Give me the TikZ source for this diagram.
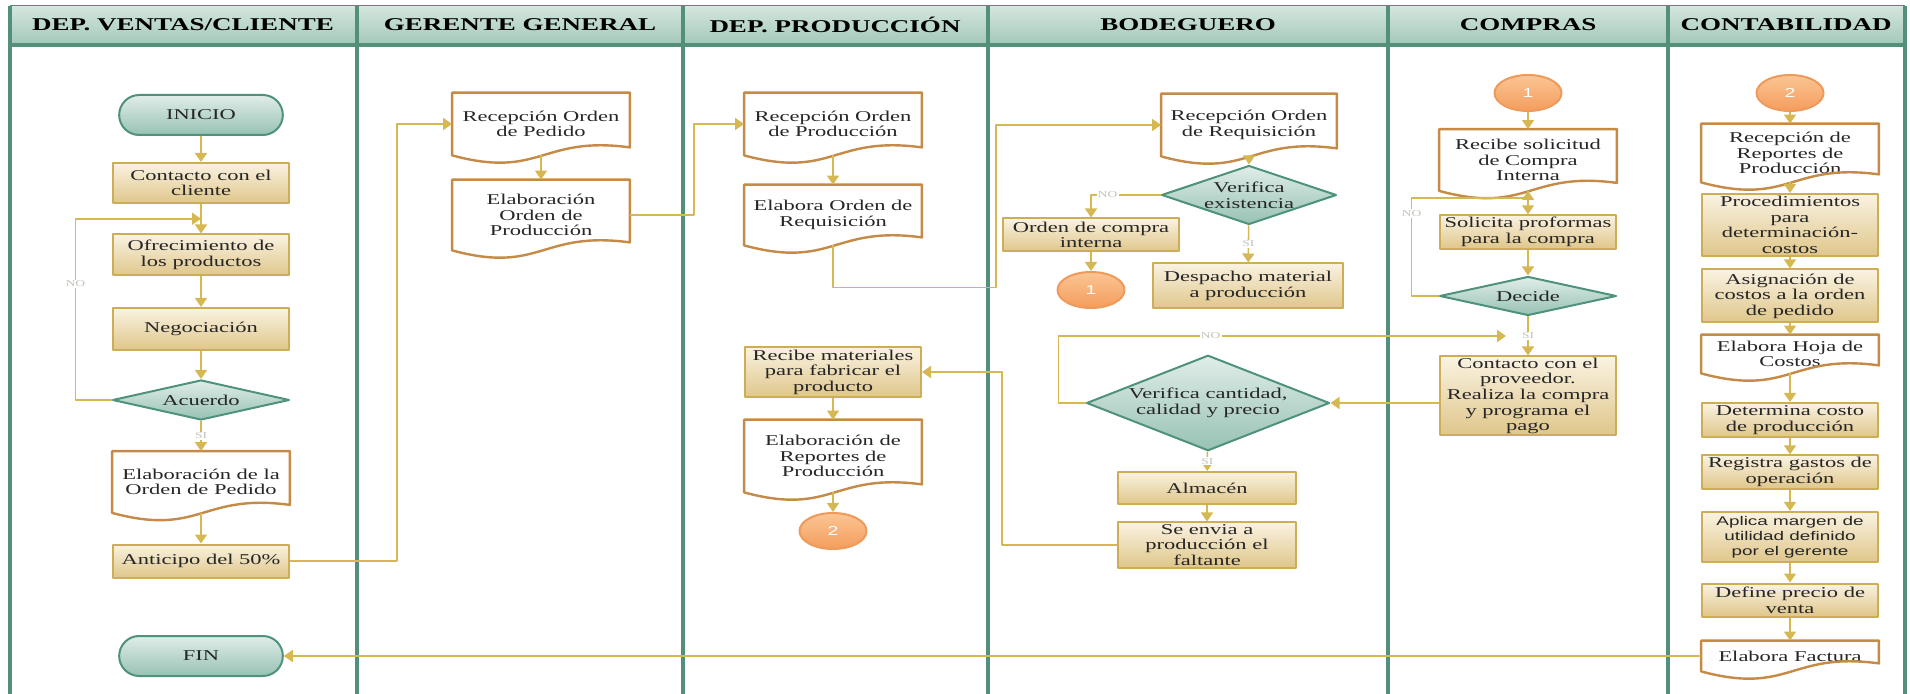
\documentclass[tikz,border=0pt]{standalone}
\usepackage{fontspec}
\setmainfont{Liberation Serif}[FakeStretch=1.5]
\setsansfont{Liberation Sans}[FakeStretch=1.5]
\usetikzlibrary{shapes.geometric,shapes.misc,arrows.meta,calc}
\definecolor{laneline}{HTML}{52907A}
\definecolor{headtop}{HTML}{D4E6DE}
\definecolor{headbot}{HTML}{A3C7B9}
\definecolor{procline}{HTML}{CDAE57}
\definecolor{proctop}{HTML}{FAF3E2}
\definecolor{procbot}{HTML}{DFC68A}
\definecolor{docline}{HTML}{C58A45}
\definecolor{decline}{HTML}{4E927C}
\definecolor{dectop}{HTML}{E0EDE8}
\definecolor{decbot}{HTML}{97C2B3}
\definecolor{connline}{HTML}{EE9A5A}
\definecolor{conntop}{HTML}{FBC594}
\definecolor{connbot}{HTML}{F49D5C}
\definecolor{arrcol}{HTML}{D6B852}
\definecolor{labgray}{HTML}{C4C2B8}
\begin{document}
\begin{tikzpicture}[x=0.5pt,y=-0.5pt,>={Triangle[width=6pt,length=4.5pt]},line join=round,
	font=\fontsize{7.5}{7.8}\selectfont,text=black!85,
	lane/.style={draw=laneline,line width=1.6pt},
	head/.style={font=\fontsize{9}{10}\selectfont\bfseries,text=black},
	proc/.style={draw=procline,line width=1pt,top color=proctop,bottom color=procbot,align=center,inner sep=1pt,minimum width=88pt},
	docu/.style={align=center,inner sep=1pt,minimum width=88.5pt},
	docedge/.style={draw=docline,line width=1.2pt},
	deci/.style={diamond,draw=decline,line width=1pt,top color=dectop,bottom color=decbot,align=center,inner sep=0pt},
	term/.style={rounded rectangle,draw=decline,line width=1pt,top color=dectop,bottom color=decbot,minimum width=88.5pt,minimum height=20pt},
	conn/.style={ellipse,draw=connline,line width=1pt,top color=conntop,bottom color=connbot,text=white,font=\sffamily\fontsize{6.5}{7}\selectfont,minimum width=33.5pt,minimum height=18pt,inner sep=0pt},
	lab/.style={fill=white,text=labgray,font=\fontsize{4.5}{5}\selectfont,inner sep=0.6pt},
	arr/.style={->,draw=arrcol,line width=0.8pt}]
\useasboundingbox (0,0) rectangle (1910,694);
% carriles
\shade[top color=headtop,bottom color=headbot] (10,6) rectangle (1905,45);
\draw[draw=laneline,line width=0.5pt] (10,6) -- (1905,6);
\draw[lane] (10,45) -- (1905,45);
\foreach \x in {10,357,683,988,1388,1668,1905}
	\draw[lane] (\x,6) -- (\x,694);
\node[head] (h1) at (183,25) {DEP. VENTAS/CLIENTE};
\node[head] (h2) at (520,25) {GERENTE GENERAL};
\node[head] (h3) at (835,25) {DEP. PRODUCCIÓN};
\node[head] (h4) at (1188,25) {BODEGUERO};
\node[head] (h5) at (1528,25) {COMPRAS};
\node[head] (h6) at (1786,25) {CONTABILIDAD};
% ventas / cliente
\node[term] (ini) at (201,115) {INICIO};
\node[proc,minimum height=20pt] (b1) at (201,183) {Contacto con el\\cliente};
\node[proc,minimum height=20.5pt] (b2) at (201,255) {Ofrecimiento de\\los productos};
\node[proc,minimum height=21pt] (b3) at (201,329) {Negociación};
\node[deci,aspect=4.4,minimum width=88.5pt,minimum height=20pt] (d1) at (201,400) {Acuerdo};
\node[docu,minimum height=30.5pt] (doc1) at (201,482) {Elaboración de la\\Orden de Pedido};
\node[proc,minimum height=16.5pt] (b4) at (201,561) {Anticipo del 50\%};
\node[term] (fin) at (201,656) {FIN};
% gerente
\node[docu,minimum height=31pt] (doc2) at (541,124) {Recepción Orden\\de Pedido};
\node[docu,minimum height=35pt] (doc3) at (541,215) {Elaboración\\Orden de\\Producción};
% produccion
\node[docu,minimum height=31pt] (doc4) at (833,124) {Recepción Orden\\de Producción};
\node[docu,minimum height=30pt] (doc5) at (833,215) {Elabora Orden de\\Requisición};
\node[proc,minimum height=25pt] (b5) at (833,372) {Recibe materiales\\para fabricar el\\producto};
\node[docu,minimum height=36pt] (doc6) at (833,456) {Elaboración de\\Reportes de\\Producción};
\node[conn] (c2a) at (833,531) {2};
% bodeguero
\node[docu,minimum width=87.5pt,minimum height=31pt] (doc7) at (1249,125) {Recepción Orden\\de Requisición};
\node[deci,aspect=2.85,minimum width=87.5pt,minimum height=29.5pt] (d2) at (1249,195) {Verifica\\existencia};
\node[proc,minimum height=16.5pt] (b6) at (1091,235) {Orden de compra\\interna};
\node[conn] (c1a) at (1091,290) {1};
\node[proc,minimum width=95pt,minimum height=22.5pt] (b7) at (1248,286) {Despacho material\\a producción};
\node[deci,aspect=2.4,minimum width=121.5pt,minimum height=43.5pt] (d3) at (1208,403) {Verifica cantidad,\\calidad y precio};
\node[proc,minimum width=89pt,minimum height=16pt] (b8) at (1207,488) {Almacén};
\node[proc,minimum width=89pt,minimum height=22.5pt,inner ysep=0pt] (b9) at (1207,545) {Se envia a\\producción el\\faltante};
% compras
\node[conn] (c1b) at (1528,93) {1};
\node[docu,minimum height=30.5pt] (doc8) at (1528,160) {Recibe solicitud\\de Compra\\Interna};
\node[proc,minimum height=16.5pt] (b10) at (1528,232) {Solicita proformas\\para la compra};
\node[deci,aspect=4.75,minimum width=88.5pt,minimum height=19.5pt] (d4) at (1528,296) {Decide};
\node[proc,minimum height=39.5pt,inner ysep=0pt] (b11) at (1528,396) {Contacto con el\\proveedor.\\Realiza la compra\\y programa el\\pago};
% contabilidad
\node[conn] (c2b) at (1790,93) {2};
\node[docu,minimum height=29pt] (doc9) at (1790,153) {Recepción de\\Reportes de\\Producción};
\node[proc,minimum height=31pt,inner ysep=0pt] (b12) at (1790,225) {Procedimientos\\para\\determinación-\\costos};
\node[proc,minimum height=26.5pt] (b13) at (1790,296) {Asignación de\\costos a la orden\\de pedido};
\node[docu,minimum height=19pt] (doc10) at (1790,354) {Elabora Hoja de\\Costos};
\node[proc,minimum height=17pt] (b14) at (1790,420) {Determina costo\\de producción};
\node[proc,minimum height=16pt] (b15) at (1790,472) {Registra gastos de\\operación};
\node[proc,minimum height=25pt,font=\sffamily\fontsize{6.3}{7.6}\selectfont] (b16) at (1790,537) {Aplica margen de\\utilidad definido\\por el gerente};
\node[proc,minimum height=16.5pt] (b17) at (1790,600) {Define precio de\\venta};
\node[docu,minimum height=15pt] (doc11) at (1790,656) {Elabora Factura};
% bordes de documentos
\foreach \n in {doc1,doc2,doc3,doc4,doc5,doc6,doc7,doc8,doc9,doc10,doc11}
	\draw[docedge] (\n.south west) -- (\n.north west) -- (\n.north east) -- ([yshift=4pt]\n.south east)
		.. controls ([yshift=10pt]\n.south) and ([yshift=-12pt]\n.south) .. (\n.south west) -- cycle;
% flechas
\coordinate (m1) at ($(b1.south)!0.5!(b2.north)$);
\coordinate (k2) at ($(doc8.south)!0.3!(b10.north)$);
\coordinate (k3) at ($(d4.south)!0.5!(b11.north)$);
\foreach \a/\b in {ini/b1,b1/b2,b2/b3,b3/d1,doc1/b4,doc2/doc3,doc4/doc5,b5/doc6,doc6/c2a,
	doc7/d2,b6/c1a,b8/b9,c1b/doc8,doc8/b10,b10/d4,
	c2b/doc9,doc9/b12,b12/b13,b13/doc10,doc10/b14,b14/b15,b15/b16,b16/b17,b17/doc11}
	\draw[arr] (\a) -- (\b);
\draw[arr] (d1) -- node[lab]{SI} (doc1);
\draw[arr] (d1.west) -- ++(-36,0) |- node[lab,pos=0.32]{NO} (m1);
\draw[arr] (b4.east) -- ++(107,0) |- (doc2.west);
\draw[arr] (doc3.east) -- ++(64,0) |- (doc4.west);
\draw[arr] (doc5.south) -- ++(0,42) -- ++(163,0) |- (doc7.west);
\draw[arr] (d2.west) -| node[lab,pos=0.38]{NO} (b6.north);
\draw[arr] (d2) -- node[lab]{SI} (b7);
\draw[arr] (d4.west) -- ++(-27,0) |- node[lab,pos=0.42]{NO} (k2) -- (doc8.south);
\draw[arr] (d4) -- node[lab]{SI} (b11);
\draw[arr] (d3.west) -- ++(-27,0) |- node[lab,pos=0.67]{NO} ([xshift=-11pt]k3);
\draw[arr] (b11.west |- d3.east) -- (d3.east);
\draw[arr] (d3) -- node[lab]{SI} (b8);
\draw[arr] (b9.west) -- ++(-115,0) |- (b5.east);
\draw[arr] (doc11.west) -- (fin.east);
\end{tikzpicture}
\end{document}
